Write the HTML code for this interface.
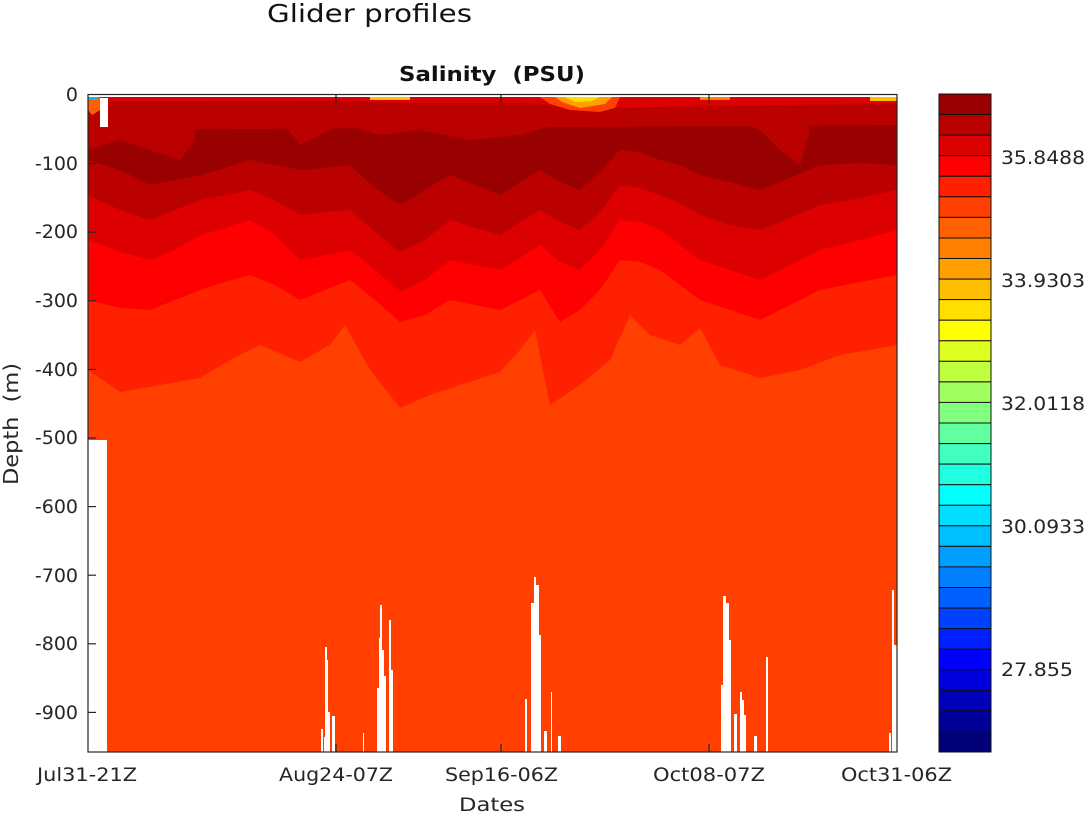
<!DOCTYPE html>
<html><head><meta charset="utf-8"><style>
body{margin:0;background:#fff;}
svg{display:block;font-family:"DejaVu Sans","Liberation Sans",sans-serif;}
</style></head><body>
<svg width="1085" height="814" viewBox="0 0 1085 814" xmlns="http://www.w3.org/2000/svg">
<rect width="1085" height="814" fill="#fff"/>
<text x="267" y="22" font-size="25" textLength="205" lengthAdjust="spacingAndGlyphs" fill="#111">Glider profiles</text>
<text x="399" y="81" font-size="20" font-weight="bold" textLength="186" lengthAdjust="spacingAndGlyphs" fill="#111" xml:space="preserve">Salinity  (PSU)</text>

<rect x="88" y="95" width="809" height="657" fill="#ff4000"/>
<polygon fill="#ff2000" points="88,95 897,95 897,345 870,350 840,355 800,370 760,378 720,365 700,328 680,345 650,335 630,315 610,360 580,385 550,405 535,330 520,350 500,372 460,385 430,395 400,408 370,370 345,325 330,345 300,362 260,345 230,360 200,378 160,385 120,392 88,370"/>
<polygon fill="#ff0000" points="88,95 897,95 897,275 860,282 820,290 790,305 760,320 730,310 700,300 680,285 660,270 640,262 620,260 600,290 580,310 560,322 540,290 520,300 500,310 475,305 450,300 425,315 400,322 375,300 350,280 325,290 300,300 275,285 250,275 225,282 200,290 175,300 150,310 120,308 88,300"/>
<polygon fill="#dd0000" points="88,95 897,95 897,230 860,240 820,250 790,265 760,280 730,270 700,260 680,245 660,230 640,222 620,220 600,250 580,270 560,262 540,245 520,258 500,270 475,265 450,260 425,280 400,292 375,270 350,250 325,255 300,260 275,235 250,220 225,228 200,235 175,250 150,260 120,252 88,240"/>
<polygon fill="#bb0000" points="88,95 897,95 897,190 860,198 820,205 790,218 760,230 730,225 700,215 680,203 660,195 640,188 620,185 600,212 580,230 560,222 540,210 520,222 500,235 475,228 450,220 425,240 400,252 375,232 350,210 325,212 300,215 275,200 250,190 225,195 200,200 175,210 150,220 120,210 88,195"/>
<polygon fill="#990000" points="88,130 897,125 897,165 860,163 820,165 790,178 760,190 730,182 700,175 680,165 660,160 640,152 620,150 600,172 580,190 560,182 540,170 520,182 500,195 475,185 450,175 425,190 400,205 375,188 350,165 325,168 300,170 275,165 250,160 225,168 200,175 175,180 150,185 120,170 88,160"/>
<polygon fill="#bb0000" points="88,98 190,98 195,140 180,160 150,150 120,140 88,150"/>
<polygon fill="#bb0000" points="280,98 335,98 330,130 300,145 285,125"/>
<polygon fill="#bb0000" points="337,98 580,98 570,120 520,135 470,140 420,130 380,135 345,125"/>
<polygon fill="#bb0000" points="610,98 700,98 690,120 650,125 620,115"/>
<polygon fill="#bb0000" points="720,98 800,98 810,130 800,165 780,150 760,130 735,120"/>
<polygon fill="#bb0000" points="840,98 870,98 865,125 845,125"/>
<polygon fill="#dd0000" points="88,97 897,97 897,103 600,108 560,105 520,103 400,103 337,101 88,102"/>
<polygon fill="#ff4000" points="540,97 620,97 615,108 600,112 570,110 550,104"/>
<polygon fill="#ff9f00" points="555,97 612,97 605,104 580,108 562,102"/>
<polygon fill="#ffdf00" points="565,97 600,97 592,101 575,102"/>
<polygon fill="#ff6000" points="88,97 100,97 100,110 92,115 88,110"/>
<rect x="88" y="97" width="10" height="3" fill="#00bfff"/>
<rect x="370" y="97" width="40" height="3" fill="#ffbf00"/>
<rect x="700" y="97" width="30" height="3" fill="#ff8000"/>
<rect x="870" y="97" width="27" height="4" fill="#ffbf00"/>
<rect x="88" y="95" width="809" height="2" fill="#fff"/>
<rect x="100" y="98" width="8" height="29" fill="#fff"/>
<rect x="88" y="440" width="19" height="312" fill="#fff"/>
<g fill="#fff">
<rect x="321" y="729" width="2" height="23"/>
<rect x="324" y="737" width="2" height="15"/>
<rect x="325" y="647" width="2" height="105"/>
<rect x="327" y="660" width="1" height="92"/>
<rect x="328" y="712" width="2" height="40"/>
<rect x="332" y="716" width="3" height="36"/>
<rect x="363" y="733" width="1" height="19"/>
<rect x="377" y="688" width="2" height="64"/>
<rect x="379" y="638" width="1" height="114"/>
<rect x="380" y="605" width="2" height="147"/>
<rect x="382" y="650" width="2" height="102"/>
<rect x="384" y="676" width="2" height="76"/>
<rect x="389" y="620" width="2" height="132"/>
<rect x="391" y="670" width="2" height="82"/>
<rect x="525" y="699" width="2" height="53"/>
<rect x="531" y="603" width="3" height="149"/>
<rect x="534" y="577" width="2" height="175"/>
<rect x="536" y="585" width="3" height="167"/>
<rect x="539" y="635" width="2" height="117"/>
<rect x="544" y="731" width="3" height="21"/>
<rect x="551" y="692" width="1" height="60"/>
<rect x="558" y="736" width="3" height="16"/>
<rect x="721" y="685" width="3" height="67"/>
<rect x="723" y="596" width="3" height="156"/>
<rect x="726" y="603" width="3" height="149"/>
<rect x="729" y="640" width="2" height="112"/>
<rect x="734" y="714" width="3" height="38"/>
<rect x="740" y="692" width="2" height="60"/>
<rect x="742" y="700" width="2" height="52"/>
<rect x="744" y="715" width="2" height="37"/>
<rect x="754" y="736" width="3" height="16"/>
<rect x="766" y="657" width="2" height="95"/>
<rect x="889" y="733" width="2" height="19"/>
<rect x="892" y="590" width="2" height="162"/>
<rect x="894" y="645" width="3" height="107"/>
</g>
<rect x="88" y="94.5" width="809" height="657.5" fill="none" stroke="#262626" stroke-width="1.2"/>
<g stroke="#262626" stroke-width="1.2">
<line x1="88" y1="163.6" x2="96" y2="163.6"/><line x1="88" y1="232.2" x2="96" y2="232.2"/>
<line x1="88" y1="300.8" x2="96" y2="300.8"/><line x1="88" y1="369.4" x2="96" y2="369.4"/>
<line x1="88" y1="438" x2="96" y2="438"/><line x1="88" y1="506.6" x2="96" y2="506.6"/>
<line x1="88" y1="575.2" x2="96" y2="575.2"/><line x1="88" y1="643.8" x2="96" y2="643.8"/>
<line x1="88" y1="712.4" x2="96" y2="712.4"/>
<line x1="336" y1="752" x2="336" y2="744"/><line x1="501" y1="752" x2="501" y2="744"/>
<line x1="709" y1="752" x2="709" y2="744"/>
<line x1="336" y1="95" x2="336" y2="103"/><line x1="501" y1="95" x2="501" y2="103"/>
<line x1="709" y1="95" x2="709" y2="103"/>
</g>
<g font-size="19" fill="#262626" text-anchor="end">
<text x="78" y="101">0</text><text x="78" y="170">-100</text><text x="78" y="238">-200</text>
<text x="78" y="307">-300</text><text x="78" y="376">-400</text><text x="78" y="444">-500</text>
<text x="78" y="513">-600</text><text x="78" y="582">-700</text><text x="78" y="650">-800</text>
<text x="78" y="719">-900</text>
</g>
<g font-size="19" fill="#262626">
<text x="37" y="781" textLength="100" lengthAdjust="spacingAndGlyphs">Jul31-21Z</text>
<text x="279" y="781" textLength="114" lengthAdjust="spacingAndGlyphs">Aug24-07Z</text>
<text x="445" y="781" textLength="113" lengthAdjust="spacingAndGlyphs">Sep16-06Z</text>
<text x="653" y="781" textLength="112" lengthAdjust="spacingAndGlyphs">Oct08-07Z</text>
<text x="841" y="781" textLength="111" lengthAdjust="spacingAndGlyphs">Oct31-06Z</text>
<text x="459" y="811" textLength="66" lengthAdjust="spacingAndGlyphs">Dates</text>
</g>
<text transform="translate(18,485) rotate(-90)" font-size="20" fill="#262626" textLength="122" lengthAdjust="spacingAndGlyphs" xml:space="preserve">Depth  (m)</text>

<g stroke="#111" stroke-width="1">
<rect x="939" y="94.0" width="52" height="20.6" fill="#990000"/>
<rect x="939" y="114.6" width="52" height="20.6" fill="#bb0000"/>
<rect x="939" y="135.1" width="52" height="20.6" fill="#dd0000"/>
<rect x="939" y="155.7" width="52" height="20.6" fill="#ff0000"/>
<rect x="939" y="176.3" width="52" height="20.6" fill="#ff2000"/>
<rect x="939" y="196.8" width="52" height="20.6" fill="#ff4000"/>
<rect x="939" y="217.4" width="52" height="20.6" fill="#ff6000"/>
<rect x="939" y="238.0" width="52" height="20.6" fill="#ff8000"/>
<rect x="939" y="258.5" width="52" height="20.6" fill="#ff9f00"/>
<rect x="939" y="279.1" width="52" height="20.6" fill="#ffbf00"/>
<rect x="939" y="299.6" width="52" height="20.6" fill="#ffdf00"/>
<rect x="939" y="320.2" width="52" height="20.6" fill="#ffff00"/>
<rect x="939" y="340.8" width="52" height="20.6" fill="#dfff20"/>
<rect x="939" y="361.3" width="52" height="20.6" fill="#bfff40"/>
<rect x="939" y="381.9" width="52" height="20.6" fill="#9fff60"/>
<rect x="939" y="402.4" width="52" height="20.6" fill="#80ff80"/>
<rect x="939" y="423.0" width="52" height="20.6" fill="#60ff9f"/>
<rect x="939" y="443.6" width="52" height="20.6" fill="#40ffbf"/>
<rect x="939" y="464.1" width="52" height="20.6" fill="#20ffdf"/>
<rect x="939" y="484.7" width="52" height="20.6" fill="#00ffff"/>
<rect x="939" y="505.3" width="52" height="20.6" fill="#00dfff"/>
<rect x="939" y="525.8" width="52" height="20.6" fill="#00bfff"/>
<rect x="939" y="546.4" width="52" height="20.6" fill="#009fff"/>
<rect x="939" y="566.9" width="52" height="20.6" fill="#0080ff"/>
<rect x="939" y="587.5" width="52" height="20.6" fill="#0060ff"/>
<rect x="939" y="608.1" width="52" height="20.6" fill="#0040ff"/>
<rect x="939" y="628.6" width="52" height="20.6" fill="#0020ff"/>
<rect x="939" y="649.2" width="52" height="20.6" fill="#0000ff"/>
<rect x="939" y="669.8" width="52" height="20.6" fill="#0000dd"/>
<rect x="939" y="690.3" width="52" height="20.6" fill="#0000bb"/>
<rect x="939" y="710.9" width="52" height="20.6" fill="#000099"/>
<rect x="939" y="731.4" width="52" height="20.6" fill="#000077"/>
</g>
<g font-size="19" fill="#262626">
<text x="1001" y="164" textLength="84" lengthAdjust="spacingAndGlyphs">35.8488</text>
<text x="1001" y="287" textLength="84" lengthAdjust="spacingAndGlyphs">33.9303</text>
<text x="1001" y="410" textLength="84" lengthAdjust="spacingAndGlyphs">32.0118</text>
<text x="1001" y="533" textLength="84" lengthAdjust="spacingAndGlyphs">30.0933</text>
<text x="1001" y="676" textLength="72" lengthAdjust="spacingAndGlyphs">27.855</text>
</g>
</svg>
</body></html>
